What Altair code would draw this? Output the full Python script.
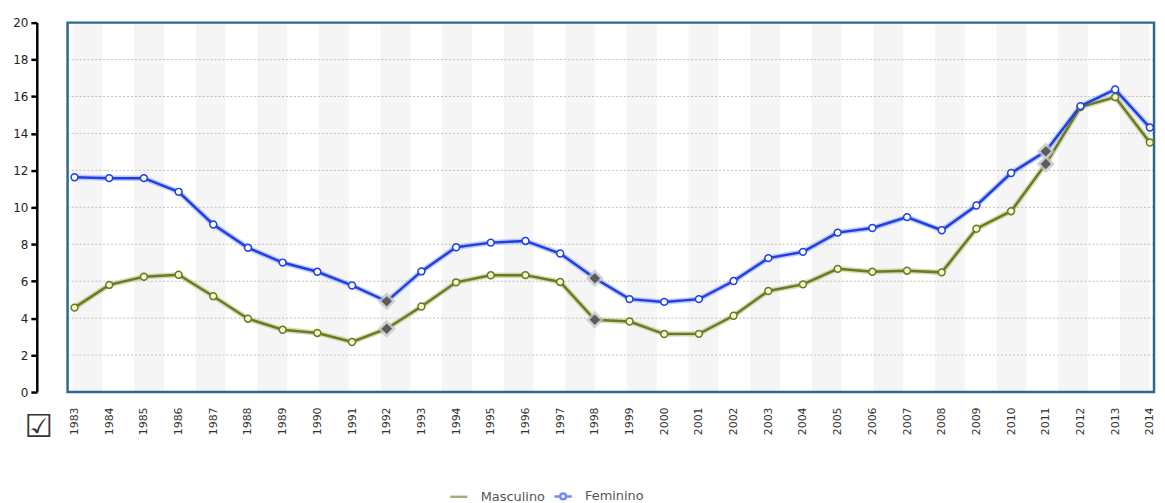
import altair as alt
import pandas as pd

# ---------------- data ----------------
years = list(range(1983, 2015))
masculino = [4.57, 5.80, 6.24, 6.35, 5.19, 3.97, 3.37, 3.20, 2.71, 3.43,
             4.63, 5.94, 6.32, 6.33, 5.96, 3.91, 3.82, 3.14, 3.15, 4.13,
             5.47, 5.83, 6.67, 6.51, 6.57, 6.48, 8.84, 9.79, 12.35, 15.43,
             15.97, 13.51]
feminino = [11.63, 11.58, 11.58, 10.84, 9.07, 7.81, 7.01, 6.51, 5.77, 4.91,
            6.53, 7.84, 8.09, 8.18, 7.50, 6.16, 5.03, 4.88, 5.03, 6.01,
            7.25, 7.59, 8.63, 8.88, 9.47, 8.76, 10.10, 11.86, 13.03, 15.48,
            16.38, 14.32]
series = ["Masculino", "Feminino"]
marked_years = [1992, 1998, 2011]
y_ticks = list(range(0, 21, 2))
grid_values = list(range(2, 20, 2))

# ---------------- styles ----------------
line_colors = {"Masculino": "#687b1f", "Feminino": "#1f3fe3"}
halo_colors = {"Masculino": "#bcc48e", "Feminino": "#94acf2"}
fill_colors = {"Masculino": "#f6f8cf", "Feminino": "#ffffff"}
FONT = "DejaVu Sans"
W, H = 1094, 372

rows = []
for name, vals in (("Masculino", masculino), ("Feminino", feminino)):
    for yr, v in zip(years, vals):
        rows.append({
            "year": yr, "value": v, "serie": name,
            "marked": yr in marked_years,
            "linec": line_colors[name], "haloc": halo_colors[name],
            "fillc": fill_colors[name],
        })
df = pd.DataFrame(rows)

# decorative background stripes (in year units of the x scale)
stripe_start = [1982.94 + i * 1.776 for i in range(18)]
stripes = pd.DataFrame({"s": stripe_start, "e": [s + 0.86 for s in stripe_start]})

xscale = alt.Scale(domain=[1982.8, 2014.12], nice=False, zero=False)
yscale = alt.Scale(domain=[0, 20], nice=False, zero=True)

X_AXIS = alt.Axis(values=years, format="d", labelAngle=270,
                  domain=False, ticks=False, grid=False,
                  labelPadding=15, title=None, labelFontSize=11,
                  labelFont=FONT, labelColor="#333",
                  labelFlush=False, labelOverlap=False)
Y_AXIS = alt.Axis(values=y_ticks, offset=31, domainColor="black",
                  domainWidth=2.5, tickColor="black", tickWidth=2.5,
                  tickSize=6, labelPadding=3, grid=False, title=None,
                  labelFontSize=12, labelFont=FONT, labelColor="#222")


def X(field):
    return alt.X(field, scale=xscale, axis=X_AXIS, title=None)


def Y(field):
    return alt.Y(field, scale=yscale, axis=Y_AXIS, title=None)


stripe_layer = alt.Chart(stripes).mark_rect(color="#f5f5f5").encode(
    x=X("s:Q"),
    x2="e:Q",
    y=alt.value(0),
    y2=alt.value(H),
)

grid_layer = alt.Chart(pd.DataFrame({"g": grid_values})).mark_rule(
    color="#bdbdbd", strokeWidth=1, strokeDash=[2, 2]
).encode(
    y=Y("g:Q"),
    x=alt.value(0),
    x2=alt.value(W),
)

base = alt.Chart(df)

halo = base.mark_line(strokeWidth=5.5, opacity=0.6).encode(
    x=X("year:Q"), y=Y("value:Q"),
    color=alt.Color("haloc:N", scale=None),
    detail="serie:N",
    order="year:Q",
)

lines = base.mark_line(strokeWidth=2.5).encode(
    x=X("year:Q"), y=Y("value:Q"),
    color=alt.Color("linec:N", scale=None),
    detail="serie:N",
    order="year:Q",
)

circles = base.transform_filter("!datum.marked").mark_point(
    shape="circle", filled=True, size=48, strokeWidth=1.5, opacity=1
).encode(
    x=X("year:Q"), y=Y("value:Q"),
    fill=alt.Fill("fillc:N", scale=None),
    stroke=alt.Stroke("linec:N", scale=None),
)

diamond_halo = base.transform_filter("datum.marked").mark_point(
    shape="diamond", filled=True, size=330, color="#c4c4c4", opacity=0.75
).encode(x=X("year:Q"), y=Y("value:Q"))

diamonds = base.transform_filter("datum.marked").mark_point(
    shape="diamond", filled=True, size=110, color="#5c5c5c", opacity=1
).encode(x=X("year:Q"), y=Y("value:Q"))

legend_def = alt.Legend(
    title=None, orient="none", legendX=384, legendY=467,
    direction="horizontal", symbolOpacity=1, symbolStrokeWidth=2.5,
    symbolFillColor="white", symbolSize=300, labelFontSize=13,
    labelFont=FONT, labelColor="#555", labelOffset=12, columnPadding=4,
)
path_line = "M-1,0H1"
path_line_circle = ("M-1,0H-0.33M0.33,0H1M0.33,0A0.33,0.33,0,1,1,-0.33,0"
                    "A0.33,0.33,0,1,1,0.33,0Z")

legend_layer = base.mark_point(opacity=0, filled=False).encode(
    x=X("year:Q"), y=Y("value:Q"),
    color=alt.Color("serie:N",
                    scale=alt.Scale(domain=series,
                                    range=[line_colors[s] for s in series]),
                    legend=legend_def),
    shape=alt.Shape("serie:N",
                    scale=alt.Scale(domain=series,
                                    range=[path_line, path_line_circle]),
                    legend=legend_def),
)

frame = alt.Chart(pd.DataFrame({"f": [0]})).mark_rect(
    filled=False, stroke="#2b6a8c", strokeWidth=2.5
).encode(x=alt.value(0), x2=alt.value(W), y=alt.value(0), y2=alt.value(H))

icon = alt.Chart(pd.DataFrame({"icon": ["\u2611"]})).mark_text(
    font=FONT, fontSize=32, color="#333", align="center", baseline="middle"
).encode(text="icon:N", x=alt.value(-29), y=alt.value(407))

chart = alt.layer(
    stripe_layer, grid_layer, frame, halo, lines, diamond_halo, diamonds,
    circles, legend_layer, icon
).properties(
    width=W, height=H,
    autosize=alt.AutoSizeParams(type="none"),
    padding={"left": 60, "top": 13, "right": 3, "bottom": 110},
    background="white",
).configure_view(
    strokeWidth=0
)

chart.save("out.html", embed_options={"renderer": "svg", "actions": False})
